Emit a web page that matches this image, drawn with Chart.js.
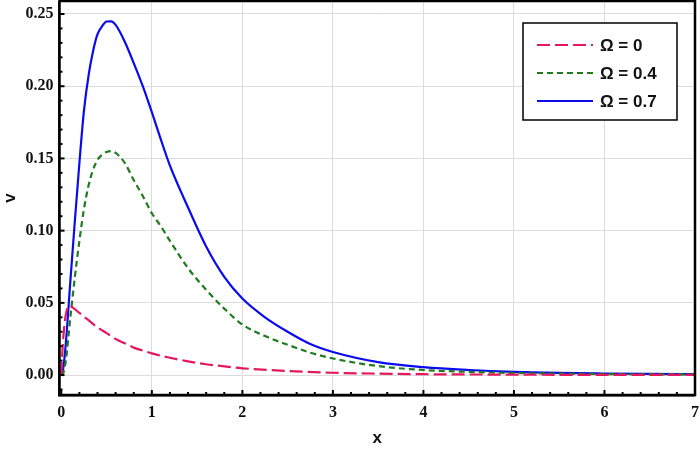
<!DOCTYPE html>
<html><head><meta charset="utf-8">
<script src="https://cdn.jsdelivr.net/npm/chart.js@4"></script>
<style>html,body{margin:0;padding:0;background:#fff;}#wrap{width:700px;height:449px;position:relative;}</style>
</head><body><div id="wrap"><canvas id="c" width="700" height="449"></canvas></div>
<script>
const labels = ["Ω = 0", "Ω = 0.4", "Ω = 0.7"];
const xRed = [0, 0.01, 0.03, 0.06, 0.09, 0.12, 0.2, 0.3, 0.4, 0.5, 0.6, 0.7, 0.8, 0.9, 1.0, 1.2, 1.4, 1.6, 1.8, 2.0, 2.5, 3.0, 3.5, 4.0, 5.0, 6.0, 7.0];
const yRed = [0, 0.014, 0.032, 0.045, 0.048, 0.047, 0.043, 0.038, 0.033, 0.029, 0.025, 0.022, 0.019, 0.017, 0.015, 0.012, 0.0095, 0.0075, 0.006, 0.0047, 0.0028, 0.0016, 0.001, 0.0006, 0.0003, 0.0001, 0.0001];
const xCurve = [0, 0.02, 0.05, 0.1, 0.15, 0.2, 0.25, 0.3, 0.35, 0.4, 0.45, 0.5, 0.55, 0.6, 0.7, 0.8, 0.9, 1.0, 1.1, 1.2, 1.4, 1.6, 1.8, 2.0, 2.25, 2.5, 2.75, 3.0, 3.5, 4.0, 4.5, 5.0, 5.5, 6.0, 6.5, 7.0];
const yGreen = [0, 0.001, 0.010, 0.040, 0.068, 0.093, 0.115, 0.131, 0.142, 0.149, 0.1525, 0.1545, 0.155, 0.1538, 0.147, 0.135, 0.124, 0.112, 0.103, 0.093, 0.074, 0.059, 0.046, 0.035, 0.027, 0.021, 0.0155, 0.0115, 0.0062, 0.0035, 0.0022, 0.0014, 0.001, 0.0007, 0.0005, 0.0004];
const yBlue = [0, 0.004, 0.022, 0.065, 0.107, 0.147, 0.183, 0.207, 0.224, 0.236, 0.2415, 0.2448, 0.2449, 0.2425, 0.231, 0.216, 0.200, 0.182, 0.163, 0.145, 0.116, 0.089, 0.068, 0.053, 0.040, 0.030, 0.0215, 0.016, 0.009, 0.0055, 0.0035, 0.0022, 0.0015, 0.0011, 0.0008, 0.0006];
const colors = ["#E5185F", "#1E7B1E", "#0A0AEE"];
const dashes = [[13, 5], [6, 4], []];
const xTickLabels = ["0", "1", "2", "3", "4", "5", "6", "7"];
const yTickLabels = ["0.00", "0.05", "0.10", "0.15", "0.20", "0.25"];

const pts = (xs, ys) => xs.map((x, i) => ({x: x, y: ys[i]}));
const series = [pts(xRed, yRed), pts(xCurve, yGreen), pts(xCurve, yBlue)];

const isInt = v => Math.abs(v - Math.round(v)) < 1e-6;
const isMajY = v => Math.abs(v / 0.05 - Math.round(v / 0.05)) < 1e-6;

const framePlugin = {
  id: 'frame',
  afterDraw(chart) {
    const {ctx, chartArea: a, scales} = chart;
    ctx.save();
    ctx.strokeStyle = '#000';
    ctx.lineWidth = 2;
    scales.x.ticks.forEach(t => {
      if (t.value < 0 || t.value > 7) return;
      const px = scales.x.getPixelForValue(t.value);
      const len = isInt(t.value) ? 5 : 3;
      ctx.beginPath(); ctx.moveTo(px, a.bottom); ctx.lineTo(px, a.bottom - len); ctx.stroke();
    });
    scales.y.ticks.forEach(t => {
      const py = scales.y.getPixelForValue(t.value);
      const len = isMajY(t.value) ? 5 : 3;
      ctx.beginPath(); ctx.moveTo(a.left, py); ctx.lineTo(a.left + len, py); ctx.stroke();
    });
    ctx.lineWidth = 2.5;
    ctx.strokeRect(a.left, a.top, a.right - a.left, a.bottom - a.top);
    ctx.lineWidth = 1.2;
    ctx.beginPath(); ctx.moveTo(a.left - 0.8, a.top); ctx.lineTo(a.left - 0.8, a.bottom + 0.8); ctx.lineTo(a.right, a.bottom + 0.8); ctx.stroke();
    // legend
    const lx = 523, ly = 23, lw = 154, lh = 97;
    ctx.fillStyle = '#fff';
    ctx.fillRect(lx, ly, lw, lh);
    ctx.lineWidth = 1.5;
    ctx.strokeRect(lx, ly, lw, lh);
    ctx.font = 'bold 17px "Liberation Sans", Arial, sans-serif';
    ctx.textBaseline = 'middle';
    chart.data.datasets.forEach((ds, i) => {
      const y = 45 + i * 28;
      ctx.strokeStyle = ds.borderColor;
      ctx.lineWidth = 2.2;
      ctx.setLineDash(ds.borderDash);
      ctx.beginPath(); ctx.moveTo(537, y); ctx.lineTo(593, y); ctx.stroke();
      ctx.setLineDash([]);
      ctx.fillStyle = '#111';
      ctx.fillText(ds.label, 600, y + 1);
    });
    ctx.restore();
  }
};

new Chart(document.getElementById('c'), {
  type: 'line',
  data: {
    datasets: series.map((d, i) => ({
      label: labels[i], data: d, borderColor: colors[i], borderDash: dashes[i],
      borderWidth: 2.2, pointRadius: 0, fill: false, cubicInterpolationMode: 'monotone'
    }))
  },
  options: {
    responsive: false, animation: false,
    layout: {padding: {left: 0, right: 5, top: 1, bottom: 0}},
    plugins: {legend: {display: false}, tooltip: {enabled: false}},
    scales: {
      x: {
        type: 'linear', min: -0.02, max: 7,
        afterFit: s => { s.height = 54; s.paddingLeft = 0; s.paddingRight = 0; },
        border: {display: false},
        grid: {drawTicks: false, color: c => (c.tick && isInt(c.tick.value) && c.tick.value > 0 && c.tick.value < 7) ? '#dcdcdc' : 'transparent', lineWidth: 1},
        ticks: {
          stepSize: 0.2, includeBounds: false, autoSkip: false, maxRotation: 0, padding: 8,
          color: '#111', font: {family: '"Liberation Serif", "Times New Roman", serif', weight: 'bold', size: 16},
          callback: v => isInt(v) ? xTickLabels[Math.round(v)] : ''
        },
        title: {display: true, text: 'x', color: '#111', font: {family: '"Liberation Sans", Arial, sans-serif', weight: 'bold', size: 17}, padding: {top: 8, bottom: 0}}
      },
      y: {
        type: 'linear', min: -0.0138, max: 0.259,
        afterFit: s => { s.width = 59.5; s.paddingTop = 0; s.paddingBottom = 0; },
        border: {display: false},
        grid: {drawTicks: false, color: c => (c.tick && isMajY(c.tick.value)) ? '#dcdcdc' : 'transparent', lineWidth: 1},
        ticks: {
          stepSize: 0.01, includeBounds: false, autoSkip: false, padding: 6,
          color: '#111', font: {family: '"Liberation Serif", "Times New Roman", serif', weight: 'bold', size: 16},
          callback: v => isMajY(v) ? yTickLabels[Math.round(v / 0.05)] : ''
        },
        title: {display: true, text: 'v', color: '#111', font: {family: '"Liberation Sans", Arial, sans-serif', weight: 'bold', size: 17}, padding: {top: 0, bottom: 3}}
      }
    }
  },
  plugins: [framePlugin]
});
</script></body></html>
